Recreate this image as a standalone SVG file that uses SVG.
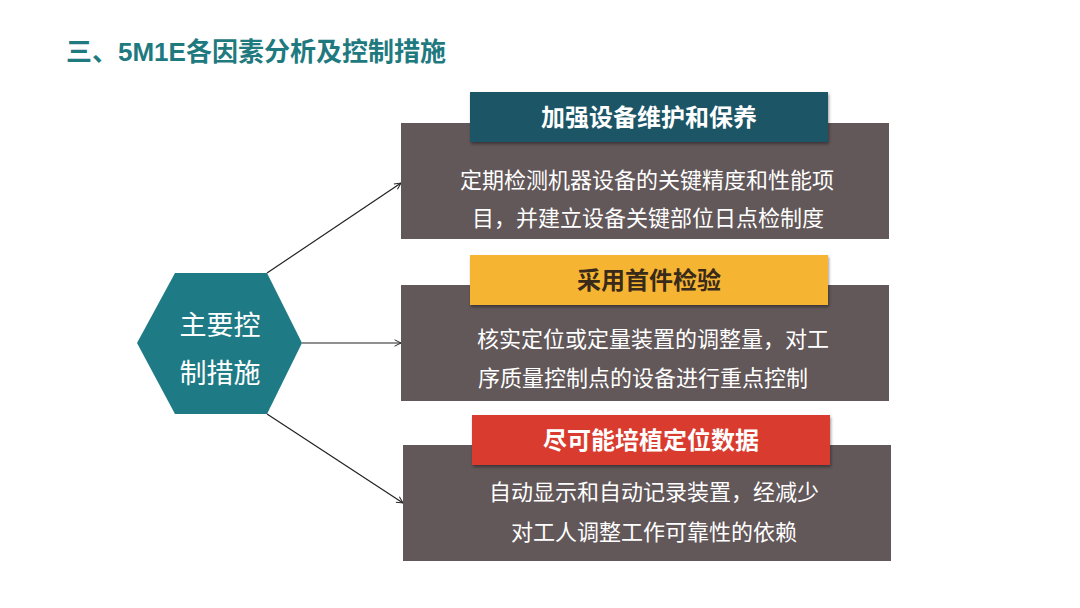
<svg xmlns="http://www.w3.org/2000/svg" width="1080" height="608" viewBox="0 0 1080 608">
<defs>
<style>
.t{font-family:"Liberation Sans","Noto Sans CJK SC",sans-serif}
.body{fill:#625759}
.bt{font-size:22px;fill:#ffffff;text-anchor:middle}
.ht{font-size:24px;font-weight:bold;text-anchor:middle}
.hx{font-size:27px;fill:#ffffff;text-anchor:middle}
.c{stroke:#222;stroke-width:1.2;fill:none;marker-end:url(#a)}
</style>
<marker id="a" viewBox="0 0 10 10" refX="9" refY="5" markerWidth="8" markerHeight="8" orient="auto" markerUnits="userSpaceOnUse">
<path d="M1,1 L9,5 L1,9" fill="none" stroke="#222" stroke-width="1.2"/>
</marker>
<filter id="sh" x="-5%" y="-10%" width="110%" height="130%">
<feDropShadow dx="1" dy="2" stdDeviation="1.5" flood-color="#000" flood-opacity="0.4"/>
</filter>
</defs>
<rect width="1080" height="608" fill="#ffffff"/>
<text class="t" x="66" y="61" font-size="26" font-weight="bold" fill="#1f7a80">三、5M1E各因素分析及控制措施</text>
<g id="connectors">
<line class="c" x1="267" y1="273" x2="401" y2="183"/>
<line class="c" x1="302" y1="343" x2="401" y2="343"/>
<line class="c" x1="267" y1="414" x2="403" y2="503"/>
</g>
<g id="hub">
<polygon points="137,343 175,273 267,273 302,343 267,414 175,414" fill="#1e7b85"/>
<text class="t hx" x="220" y="335">主要控</text>
<text class="t hx" x="220" y="383">制措施</text>
</g>
<g id="n1">
<rect class="body" x="401" y="123" width="488" height="116"/>
<rect x="470" y="92" width="358" height="50" fill="#1c5466" filter="url(#sh)"/>
<text class="t ht" x="649" y="126" fill="#ffffff">加强设备维护和保养</text>
<text class="t bt" x="647" y="188">定期检测机器设备的关键精度和性能项</text>
<text class="t bt" x="648" y="226">目，并建立设备关键部位日点检制度</text>
</g>
<g id="n2">
<rect class="body" x="401" y="285" width="488" height="116"/>
<rect x="470" y="255" width="358" height="50" fill="#f5b531" filter="url(#sh)"/>
<text class="t ht" x="649" y="289" fill="#3a2a1a">采用首件检验</text>
<text class="t bt" x="653" y="347">核实定位或定量装置的调整量，对工</text>
<text class="t bt" x="643" y="386">序质量控制点的设备进行重点控制</text>
</g>
<g id="n3">
<rect class="body" x="403" y="445" width="488" height="116"/>
<rect x="472" y="415" width="358" height="50" fill="#d93a2f" filter="url(#sh)"/>
<text class="t ht" x="651" y="449" fill="#ffffff">尽可能培植定位数据</text>
<text class="t bt" x="654" y="500">自动显示和自动记录装置，经减少</text>
<text class="t bt" x="654" y="540">对工人调整工作可靠性的依赖</text>
</g>
</svg>
